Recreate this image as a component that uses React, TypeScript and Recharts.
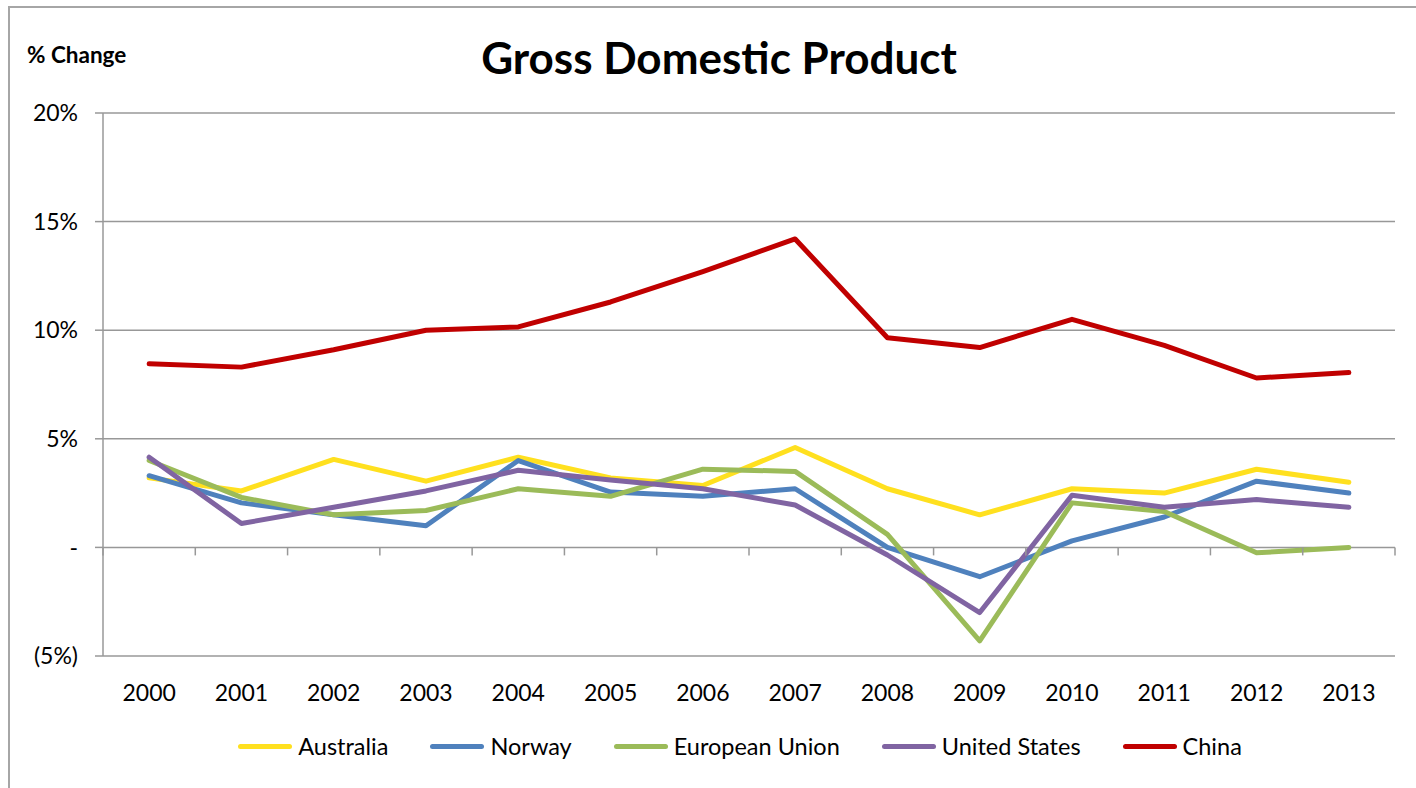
import { LineChart, Line, XAxis, YAxis, CartesianGrid } from 'recharts';

const YEARS = ['2000', '2001', '2002', '2003', '2004', '2005', '2006', '2007', '2008', '2009', '2010', '2011', '2012', '2013'];
const AUSTRALIA = [3.2, 2.6, 4.05, 3.05, 4.15, 3.2, 2.85, 4.6, 2.7, 1.5, 2.7, 2.5, 3.6, 3.0];
const NORWAY = [3.3, 2.05, 1.5, 1.0, 4.0, 2.55, 2.35, 2.7, 0.0, -1.35, 0.3, 1.4, 3.05, 2.5];
const EUROPEAN_UNION = [4.0, 2.3, 1.5, 1.7, 2.7, 2.35, 3.6, 3.5, 0.6, -4.3, 2.05, 1.65, -0.25, 0.0];
const UNITED_STATES = [4.15, 1.1, 1.85, 2.6, 3.55, 3.1, 2.7, 1.95, -0.35, -3.0, 2.4, 1.85, 2.2, 1.85];
const CHINA = [8.45, 8.3, 9.1, 10.0, 10.15, 11.3, 12.7, 14.2, 9.65, 9.2, 10.5, 9.3, 7.8, 8.05];
const Y_TICKS = [-5, 0, 5, 10, 15, 20];

const SERIES = [
  { key: 'australia', name: 'Australia', color: '#FFE01F', values: AUSTRALIA },
  { key: 'norway', name: 'Norway', color: '#4F81BD', values: NORWAY },
  { key: 'eu', name: 'European Union', color: '#9BBB59', values: EUROPEAN_UNION },
  { key: 'us', name: 'United States', color: '#8064A2', values: UNITED_STATES },
  { key: 'china', name: 'China', color: '#C00000', values: CHINA },
];

const data = YEARS.map((year, i) => {
  const row: { [k: string]: string | number } = { year };
  SERIES.forEach((s) => {
    row[s.key] = s.values[i];
  });
  return row;
});

const W = 1416;
const H = 788;
const PLOT_LEFT = 103;
const PLOT_RIGHT = 1395;
const PLOT_TOP = 113;
const PLOT_BOTTOM = 656;
const X_AXIS_H = 60;
const BAND = (PLOT_RIGHT - PLOT_LEFT) / YEARS.length;
const ZERO_Y = PLOT_TOP + ((PLOT_BOTTOM - PLOT_TOP) * 20) / 25;
const GRID = '#989898';

const fmtPct = (v: number) => (v === 0 ? '-' : v < 0 ? `(${-v}%)` : `${v}%`);

function YearTick(props: any) {
  const { x, index, payload } = props;
  const left = x - BAND / 2;
  return (
    <g>
      <line x1={left} y1={ZERO_Y} x2={left} y2={ZERO_Y + 8} stroke={GRID} strokeWidth={1.5} />
      {index === YEARS.length - 1 && (
        <line x1={x + BAND / 2} y1={ZERO_Y} x2={x + BAND / 2} y2={ZERO_Y + 8} stroke={GRID} strokeWidth={1.5} />
      )}
      <text x={x} y={PLOT_BOTTOM + 45} textAnchor="middle" fontSize={23} fill="#000">
        {payload.value}
      </text>
    </g>
  );
}

export default function App() {
  return (
    <div
      style={{
        position: 'absolute',
        left: 0,
        top: 0,
        width: W,
        height: H,
        overflow: 'hidden',
        background: '#fff',
        fontFamily: 'Lato, "Open Sans", sans-serif',
      }}
    >
      <div style={{ position: 'absolute', left: 8, top: 6, width: 1500, height: 900, border: '2px solid #a6a6a6' }} />
      <svg width={W} height={H} style={{ position: 'absolute', left: 0, top: 0 }}>
        <text x={719} y={74} textAnchor="middle" fontSize={44} fontWeight="bold" fill="#000">
          Gross Domestic Product
        </text>
        <text x={27} y={63} fontSize={22.5} fontWeight="bold" fill="#000">
          % Change
        </text>
      </svg>
      <div style={{ position: 'absolute', left: 0, top: 0 }}>
        <LineChart
          width={W}
          height={H}
          data={data}
          margin={{ top: PLOT_TOP, right: W - PLOT_RIGHT, bottom: H - PLOT_BOTTOM - X_AXIS_H, left: 23 }}
        >
          <CartesianGrid vertical={false} stroke={GRID} strokeWidth={1.5} />
          <XAxis
            dataKey="year"
            scale="band"
            height={X_AXIS_H}
            axisLine={false}
            tickLine={false}
            tickSize={0}
            tickMargin={0}
            interval={0}
            tick={<YearTick />}
          />
          <YAxis
            domain={[-5, 20]}
            ticks={Y_TICKS}
            width={PLOT_LEFT - 23}
            tickSize={8}
            tickMargin={17}
            tickFormatter={fmtPct}
            axisLine={{ stroke: GRID, strokeWidth: 1.5 }}
            tickLine={{ stroke: GRID, strokeWidth: 1.5 }}
            tick={{ fill: '#000', fontSize: 23 }}
          />
          {SERIES.map((s) => (
            <Line
              key={s.key}
              type="linear"
              dataKey={s.key}
              name={s.name}
              stroke={s.color}
              strokeWidth={5}
              strokeLinecap="round"
              strokeLinejoin="round"
              dot={false}
              activeDot={false}
              isAnimationActive={false}
            />
          ))}
        </LineChart>
      </div>
      <div
        style={{
          position: 'absolute',
          left: 0,
          top: 732,
          width: 1480,
          display: 'flex',
          justifyContent: 'center',
          gap: 42,
          fontSize: 23.5,
          color: '#000',
        }}
      >
        {SERIES.map((s) => (
          <div key={s.key} style={{ display: 'flex', alignItems: 'center', gap: 6 }}>
            <div style={{ width: 54, height: 5, borderRadius: 3, background: s.color }} />
            <span>{s.name}</span>
          </div>
        ))}
      </div>
    </div>
  );
}
